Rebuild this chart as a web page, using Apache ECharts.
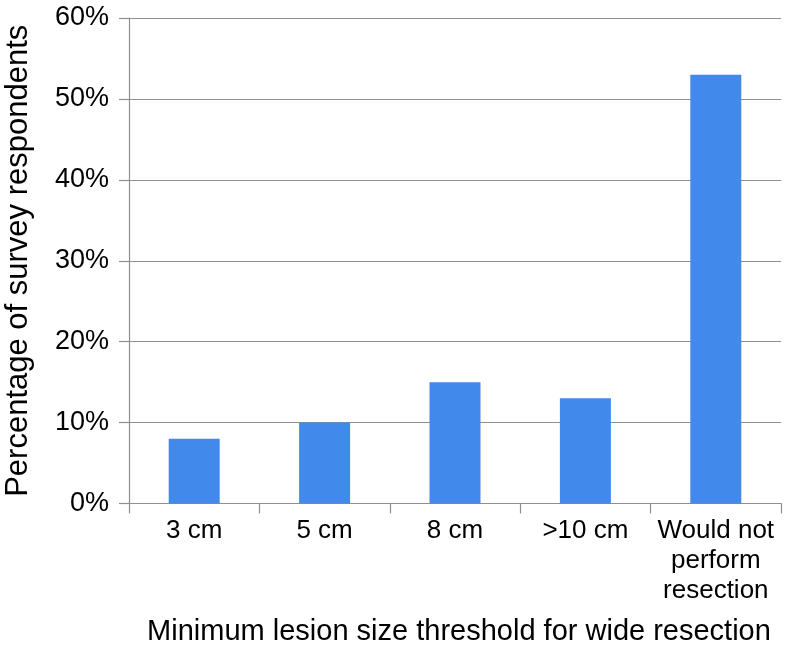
<!DOCTYPE html>
<html>
<head>
<meta charset="utf-8">
<script src="https://cdn.jsdelivr.net/npm/echarts@6/dist/echarts.min.js"></script>
<style>html,body{margin:0;padding:0;background:#fff}#c{width:786px;height:648px}</style>
</head>
<body>
<div id="c"></div>
<script>
const categories = ['3 cm', '5 cm', '8 cm', '>10 cm', 'Would not\nperform\nresection'];
const percentages = [8, 10, 15, 13, 53];
const yTicks = {min: 0, max: 60, interval: 10};
const xTitle = 'Minimum lesion size threshold for wide resection';
const yTitle = 'Percentage of survey respondents';

const chart = echarts.init(document.getElementById('c'), null, {renderer: 'canvas'});
const font = '"Liberation Sans", Arial, Helvetica, sans-serif';
const grey = '#8f8f8f';
chart.setOption({
  animation: false,
  grid: {left: 129, right: 5, top: 18, bottom: 144.5, containLabel: false, outerBoundsMode: 'none'},
  xAxis: {
    type: 'category',
    data: categories,
    name: xTitle,
    nameLocation: 'middle',
    nameGap: 114,
    nameTextStyle: {fontFamily: font, fontSize: 29, color: '#000', padding: [0, 0, 0, 8]},
    axisLine: {lineStyle: {color: grey, width: 1.2}},
    axisTick: {show: true, length: 10, lineStyle: {color: grey, width: 1.2}},
    axisLabel: {fontFamily: font, fontSize: 26, color: '#000', margin: 12, lineHeight: 30, interval: 0}
  },
  yAxis: {
    type: 'value',
    min: yTicks.min, max: yTicks.max, interval: yTicks.interval,
    name: yTitle,
    nameLocation: 'middle',
    nameGap: 95,
    nameTextStyle: {fontFamily: font, fontSize: 31, color: '#000'},
    axisLine: {show: true, lineStyle: {color: grey, width: 1.2}},
    axisTick: {show: true, length: 10, lineStyle: {color: grey, width: 1.2}},
    axisLabel: {fontFamily: font, fontSize: 27, color: '#000', margin: 20, formatter: '{value}%'},
    splitLine: {show: true, lineStyle: {color: grey, width: 1.2}}
  },
  series: [{
    type: 'bar',
    data: percentages,
    barWidth: 51,
    itemStyle: {color: '#4189ea'}
  }]
});
</script>
</body>
</html>
